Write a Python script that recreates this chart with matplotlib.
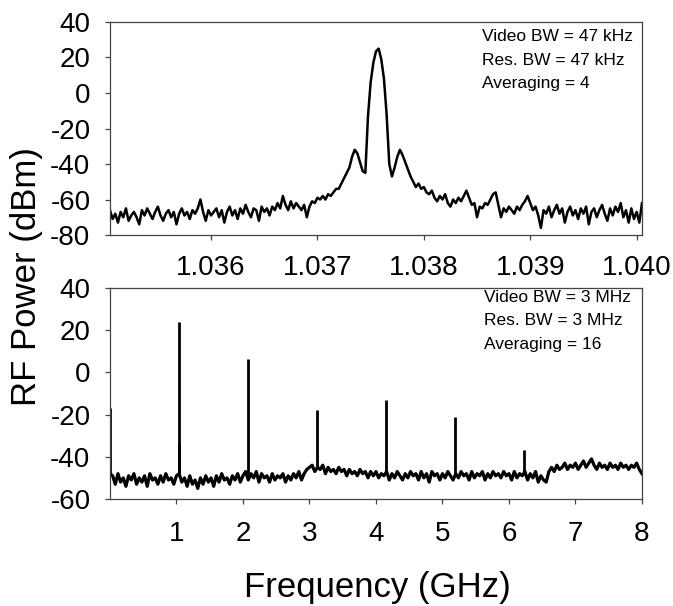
import numpy as np
import matplotlib
matplotlib.use("Agg")
import matplotlib.pyplot as plt

plt.rcParams['font.family'] = ['Liberation Sans', 'DejaVu Sans']
plt.rcParams['axes.unicode_minus'] = False

## top panel: zoom on the 1.0376 GHz line (5 MHz span)
top_start = 1.03505   # GHz
top_stop = 1.04005
top_db = [
    -66, -71, -68, -73, -67, -70, -65, -72, -69, -67,
    -70, -74, -66, -69, -65, -68, -71, -67, -64, -69,
    -72, -68, -66, -70, -67, -74, -68, -65, -69, -67,
    -71, -66, -68, -65, -60, -67, -72, -66, -69, -67,
    -65, -70, -66, -73, -67, -64, -69, -66, -71, -65,
    -68, -63, -67, -70, -65, -66, -72, -64, -67, -65,
    -69, -64, -66, -62, -65, -58, -63, -66, -61, -65,
    -62, -64, -66, -63, -70, -64, -61, -62, -59, -60,
    -58, -60, -57, -58, -56, -54, -54, -51, -48, -45,
    -42, -36, -32, -34, -39, -44, -45, -13, 6, 17,
    23.5, 25, 19, 8, -12, -40, -47, -42, -36, -32,
    -35, -39, -43, -47, -50, -53, -51, -54, -53, -56,
    -57, -55, -59, -61, -58, -60, -57, -62, -64, -60,
    -62, -59, -61, -58, -55, -59, -63, -62, -70, -64,
    -65, -62, -63, -60, -57, -56, -63, -70, -65, -67,
    -64, -66, -68, -64, -66, -63, -61, -58, -62, -66,
    -64, -69, -76, -66, -68, -64, -70, -66, -63, -68,
    -65, -73, -67, -64, -69, -66, -71, -65, -68, -64,
    -74, -67, -65, -70, -66, -63, -68, -72, -65, -69,
    -64, -67, -62, -70, -66, -73, -65, -71, -67, -73,
    -62,
]
top_ticks = [1.036, 1.037, 1.038, 1.039, 1.040]
top_notes = ["Video BW = 47 kHz", "Res. BW = 47 kHz", "Averaging = 4"]

## bottom panel: 0 - 8 GHz, noise floor + harmonic lines
bot_floor = [
    -48,
    -49, -53, -48, -52, -50, -54, -49, -51, -48, -53,
    -50, -52, -49, -54, -48, -51, -50, -53, -49, -52,
    -48, -51, -50, -53,
    -49, -48,
    -52, -50, -54, -49, -53, -51, -55, -50, -53, -49,
    -52, -50, -54, -49, -52, -48, -51, -50, -53, -49,
    -51, -48, -52,
    -49, -47, -51, -48, -50, -47, -52, -48, -50, -49,
    -52, -48, -51, -49, -50, -48, -52, -49, -51, -48,
    -50, -47, -51, -48, -46,
    -45, -44, -47, -45, -46, -44, -48, -45, -47, -46,
    -48, -45, -47, -46, -49, -46, -48, -47, -49, -46,
    -48, -47, -50, -47, -49,
    -47, -50, -48, -49, -47, -51, -48, -50, -47, -49,
    -51, -48, -50, -47, -49, -48, -51, -47, -50, -48,
    -52, -47, -49, -48, -51,
    -48, -50, -47, -49, -51, -48, -50, -47, -49, -48,
    -51, -47, -50, -48, -49, -47, -51, -48, -50, -47,
    -49, -48, -50, -47, -49,
    -48, -51, -47, -50, -48, -49, -47, -51, -48, -50,
    -47, -52, -49, -51, -52,
    -47,
    -45, -47, -44, -46, -45, -43, -46, -44, -45, -43,
    -46, -44, -42, -45, -43, -41, -44, -46, -43, -45,
    -44, -46, -43, -45, -44, -46, -43, -45, -44, -46,
    -44, -45, -43, -46, -48,
]
spike_ghz = [0.005, 1.0375, 1.041, 2.075, 3.1125, 4.15, 5.1875, 6.225]
spike_db = [-17, 24, -34, 6.5, -18, -13, -21, -37]
bot_ticks = [1, 2, 3, 4, 5, 6, 7, 8]
bot_notes = ["Video BW = 3 MHz", "Res. BW = 3 MHz", "Averaging = 16"]

spine_col = '#444444'

fig = plt.figure(figsize=(6.73, 6.06), dpi=100)
ax1 = fig.add_axes([0.1634, 0.6122, 0.7905, 0.3515])
ax2 = fig.add_axes([0.1634, 0.1766, 0.7905, 0.3482])

def style(ax, xpad):
    for s in ax.spines.values():
        s.set_color(spine_col)
        s.set_linewidth(0.9)
    ax.tick_params(axis='both', direction='out', length=3.6, width=0.9,
                   color=spine_col, labelsize=20, top=False, right=False)
    ax.tick_params(axis='x', pad=xpad)
    ax.tick_params(axis='y', pad=10.5)

# top
f_top = np.linspace(top_start, top_stop, len(top_db))
ax1.plot(f_top, top_db, color='black', lw=1.8)
ax1.set_xlim(top_start, top_stop)
ax1.set_ylim(-80, 40)
ax1.set_yticks(range(-80, 41, 20))
ax1.set_xticks(top_ticks)
ax1.set_xticklabels(['%.3f' % t for t in top_ticks])
style(ax1, 11)
for i, s in enumerate(top_notes):
    ax1.text(0.699, 0.93 - i * 0.11, s, transform=ax1.transAxes,
             fontsize=12.5, va='center', ha='left')

# bottom
f_bot = np.linspace(0, 8, len(bot_floor))
ax2.plot(f_bot, bot_floor, color='black', lw=2.3)
base = np.interp(spike_ghz, f_bot, bot_floor)
ax2.vlines(spike_ghz, base, spike_db, color='black', lw=2.0)
ax2.set_xlim(0, 8)
ax2.set_ylim(-60, 40)
ax2.set_yticks(range(-60, 41, 20))
ax2.set_xticks(bot_ticks)
style(ax2, 12.5)
for i, s in enumerate(bot_notes):
    ax2.text(0.703, 0.957 - i * 0.113, s, transform=ax2.transAxes,
             fontsize=12.5, va='center', ha='left')

fig.text(0.040, 0.543, 'RF Power (dBm)', rotation=90, fontsize=25,
         ha='center', va='center')
fig.text(0.560, 0.031, 'Frequency (GHz)', fontsize=25,
         ha='center', va='center')

fig.savefig('out.png', dpi=100)
